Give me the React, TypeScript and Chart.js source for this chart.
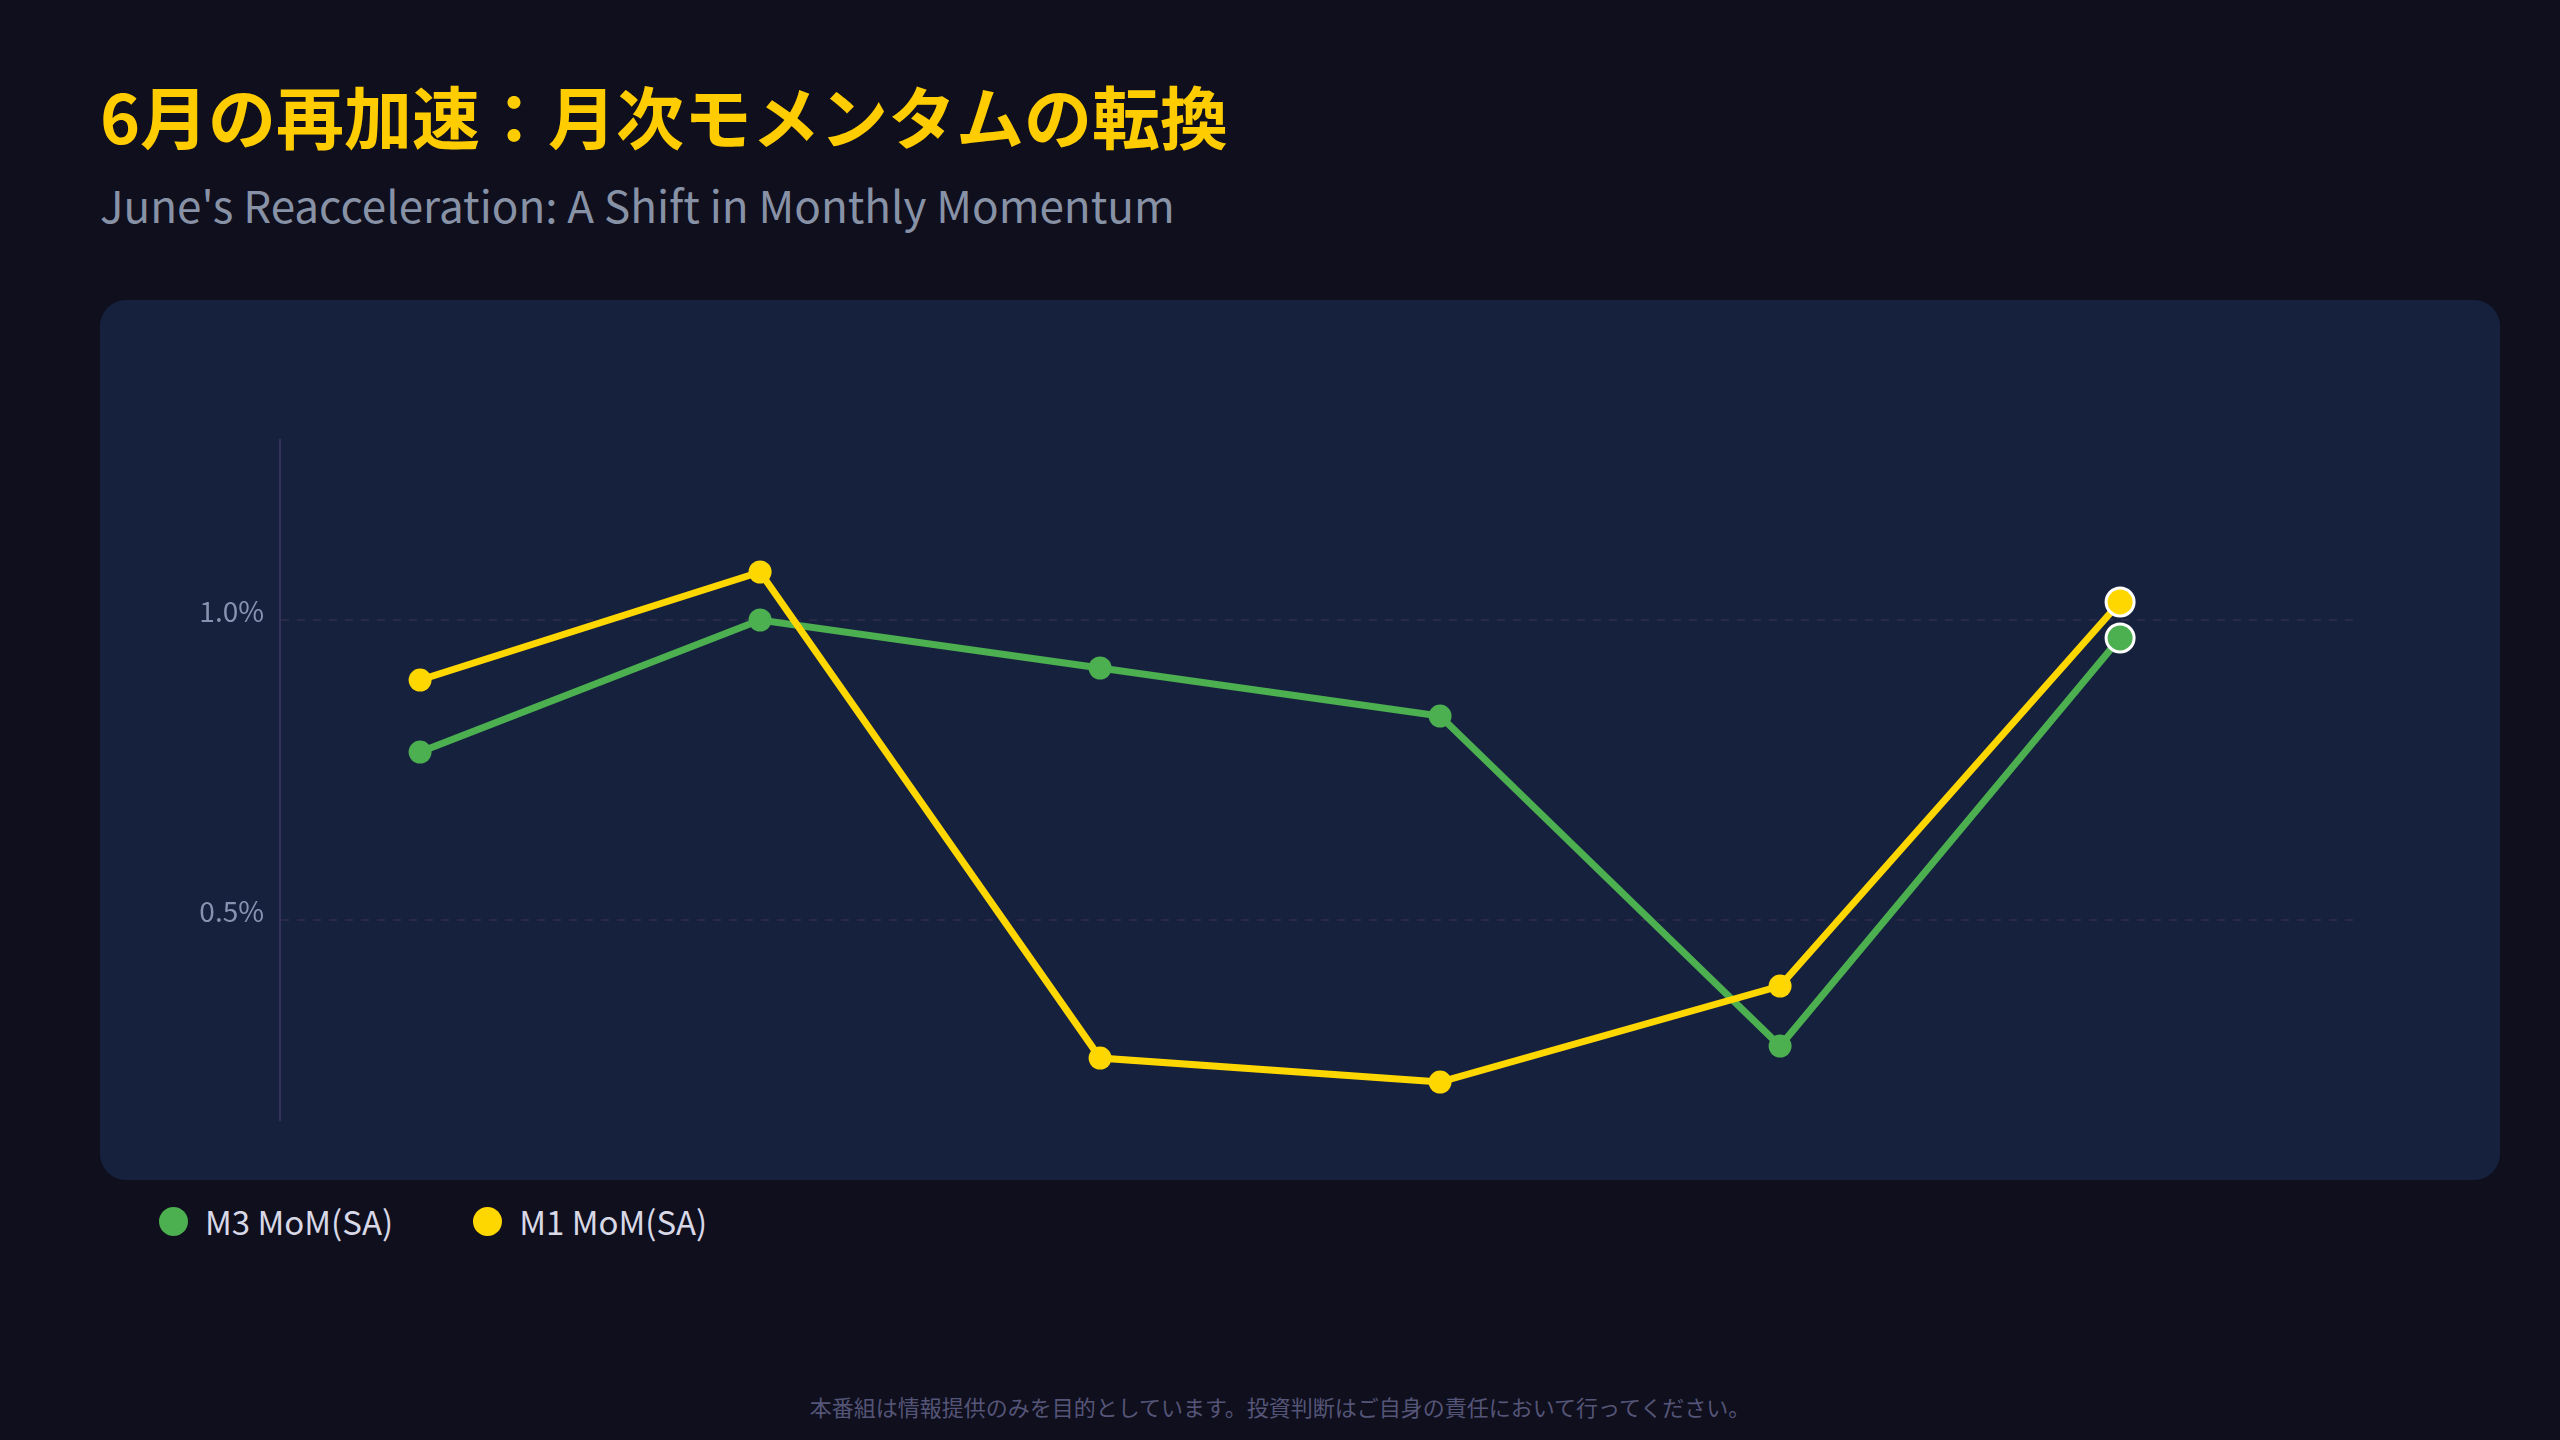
import { useEffect, useRef } from 'react';
import { Chart, registerables } from 'chart.js';

Chart.register(...registerables);

const months = ['1月', '2月', '3月', '4月', '5月', '6月'];
const m3Values = [0.78, 1.0, 0.92, 0.84, 0.29, 0.97];
const m1Values = [0.9, 1.08, 0.27, 0.23, 0.39, 1.03];
const yTickValues = [0.5, 1.0];
const seriesNames = ['M3 MoM(SA)', 'M1 MoM(SA)'];
const seriesColors = ['#4CAF50', '#FFD700'];

const FONT = '"Noto Sans CJK JP", "Noto Sans", sans-serif';

export default function App() {
	const canvasRef = useRef<HTMLCanvasElement>(null);

	useEffect(() => {
		const last = months.length - 1;
		const makeSet = (name: string, values: number[], color: string, order: number) => ({
			label: name,
			data: values.map((v, i) => ({ x: i, y: v })),
			borderColor: color,
			backgroundColor: color,
			borderWidth: 7,
			order,
			pointRadius: (ctx: any) => (ctx.dataIndex === last ? 14 : 11.5),
			pointBorderWidth: (ctx: any) => (ctx.dataIndex === last ? 3 : 0),
			pointBorderColor: (ctx: any) => (ctx.dataIndex === last ? '#ffffff' : color),
			pointBackgroundColor: color,
			tension: 0
		});

		const chart = new Chart(canvasRef.current?.getContext('2d') as CanvasRenderingContext2D, {
			type: 'line',
			data: {
				labels: months,
				datasets: [
					makeSet(seriesNames[0], m3Values, seriesColors[0], 1),
					makeSet(seriesNames[1], m1Values, seriesColors[1], 0)
				]
			},
			options: {
				animation: false,
				responsive: true,
				maintainAspectRatio: false,
				layout: { padding: { left: 0, right: 147, top: 140, bottom: 60 } },
				scales: {
					x: {
						type: 'linear',
						display: false,
						min: -0.412,
						max: 5.685
					},
					y: {
						min: 0.1667,
						max: 1.3,
						afterFit: (scale: any) => {
							scale.width = 180;
						},
						afterBuildTicks: (scale: any) => {
							scale.ticks = yTickValues.map((v) => ({ value: v }));
						},
						ticks: {
							padding: 16,
							labelOffset: -9,
							color: '#8892b0',
							font: { family: FONT, size: 28 },
							callback: (v: any) => Number(v).toFixed(1) + '%'
						},
						grid: {
							color: '#2a2948',
							lineWidth: 2,
							drawTicks: false
						},
						border: {
							display: true,
							color: '#33335a',
							width: 2,
							dash: [8, 8]
						}
					}
				},
				plugins: {
					legend: { display: false },
					tooltip: { enabled: false },
					title: { display: false }
				}
			}
		});
		return () => {
			chart.destroy();
		};
	});

	return (
		<div
			style={{
				position: 'fixed',
				left: 0,
				top: 0,
				width: 2560,
				height: 1440,
				background: '#0f0f1e',
				fontFamily: FONT,
				overflow: 'hidden'
			}}
		>
			<div
				style={{
					position: 'absolute',
					left: 100,
					top: 80,
					fontSize: 68,
					lineHeight: '70px',
					fontWeight: 700,
					color: '#FFCC00',
					whiteSpace: 'nowrap'
				}}
			>
				6月の再加速：月次モメンタムの転換
			</div>
			<div
				style={{
					position: 'absolute',
					left: 100,
					top: 182,
					fontSize: 44,
					lineHeight: '44px',
					color: '#8892a6',
					whiteSpace: 'nowrap'
				}}
			>
				June's Reacceleration: A Shift in Monthly Momentum
			</div>
			<div
				style={{
					position: 'absolute',
					left: 100,
					top: 300,
					width: 2400,
					height: 880,
					background: '#16213e',
					borderRadius: 26
				}}
			>
				<canvas ref={canvasRef}></canvas>
			</div>
			<div
				style={{
					position: 'absolute',
					left: 159,
					top: 1199,
					height: 44,
					display: 'flex',
					alignItems: 'center',
					color: '#d8d8e6',
					fontSize: 33
				}}
			>
				{seriesNames.map((name, i) => (
					<div key={name} style={{ display: 'flex', alignItems: 'center', marginRight: 80 }}>
						<span
							style={{
								width: 29,
								height: 29,
								borderRadius: 15,
								background: seriesColors[i],
								display: 'inline-block',
								marginRight: 17
							}}
						></span>
						<span>{name}</span>
					</div>
				))}
			</div>
			<div
				style={{
					position: 'absolute',
					left: 0,
					width: 2560,
					top: 1392,
					textAlign: 'center',
					fontSize: 22,
					lineHeight: '28px',
					color: '#555577'
				}}
			>
				本番組は情報提供のみを目的としています。投資判断はご自身の責任において行ってください。
			</div>
		</div>
	);
}
